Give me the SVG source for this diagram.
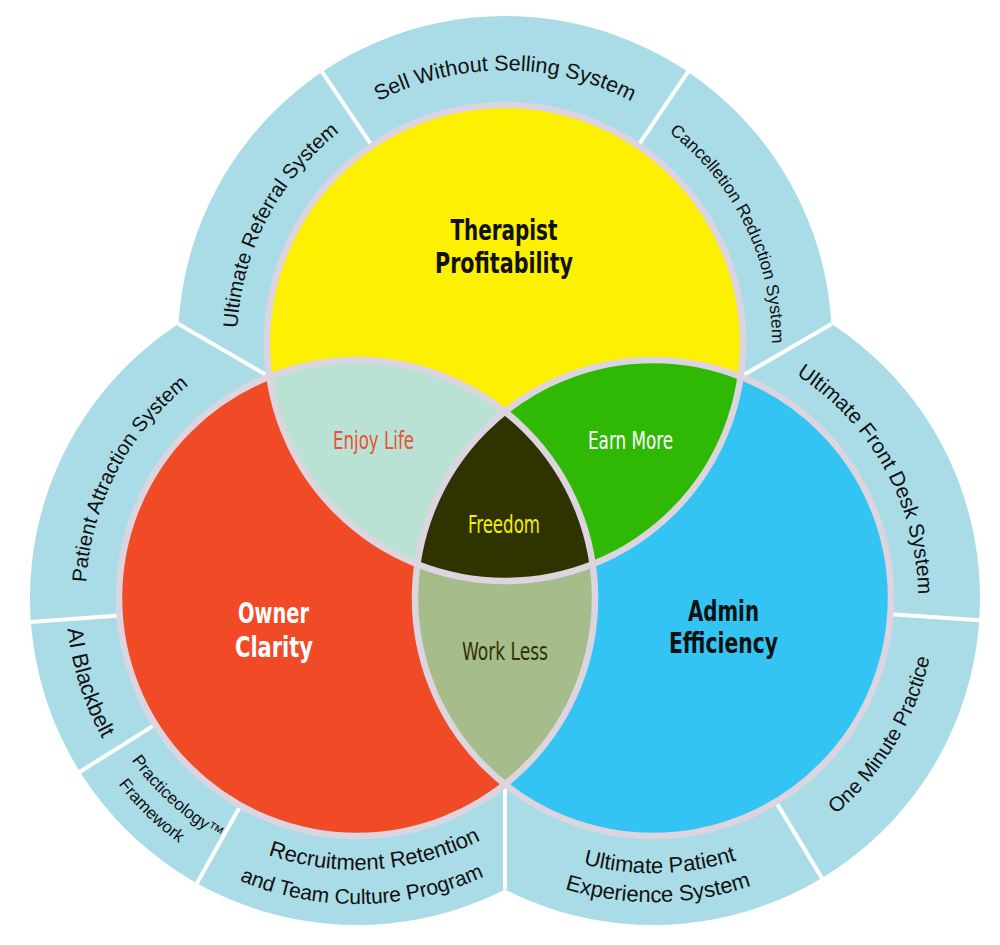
<svg xmlns="http://www.w3.org/2000/svg" width="1000" height="945" viewBox="0 0 1000 945">
<defs>
<style>
.ring{fill:#a9dce6}
.div{stroke:#ffffff;stroke-width:4;fill:none}
.rl{font-family:"Liberation Sans",Arial,sans-serif;font-size:21px;fill:#111111}
.title{font-family:"Liberation Sans Narrow","DejaVu Sans Condensed","Roboto Condensed",sans-serif;font-weight:bold;font-size:29px;text-anchor:middle}
.sub{font-family:"Liberation Sans Narrow","DejaVu Sans Condensed","Roboto Condensed",sans-serif;font-size:24px;text-anchor:middle}
.bord{fill:none;stroke:#dcd5df;stroke-width:6.5}
</style>
<clipPath id="cY"><circle cx="505" cy="343" r="238"/></clipPath>
<clipPath id="cR"><circle cx="357" cy="598" r="238"/></clipPath>
<path id="pSell" d="M236.2,295.6 A273,273 0 0 1 773.8,295.6"/>
<path id="pRef" d="M341.8,555.6 A268,268 0 0 1 585.6,87.4"/>
<path id="pCan" d="M431.4,86.3 A267,267 0 0 1 661.9,559.0"/>
<path id="pPat" d="M192.0,813.0 A271,271 0 0 1 438.5,339.5"/>
<path id="pAI" d="M222.6,339.9 A291,291 0 0 0 395.0,886.5"/>
<path id="pPra" d="M121.7,451.3 A277,277 0 0 0 527.5,816.3"/>
<path id="pFra" d="M105.8,428.6 A303,303 0 0 0 535.1,843.1"/>
<path id="pRec" d="M93.1,663.8 A272,272 0 0 0 627.5,626.4"/>
<path id="pAnd" d="M56.6,656.4 A306,306 0 0 0 659.2,645.9"/>
<path id="pFro" d="M566.7,347.4 A265,265 0 0 1 819.8,803.9"/>
<path id="pOne" d="M551.6,862.2 A283,283 0 0 0 838.7,384.4"/>
<path id="pUlt" d="M383.5,652.8 A275,275 0 0 0 925.0,638.6"/>
<path id="pExp" d="M354.6,656.0 A304,304 0 0 0 953.3,645.6"/>
</defs>
<rect width="1000" height="945" fill="#ffffff"/>

<g id="ring">
<circle class="ring" cx="505" cy="343" r="327"/>
<circle class="ring" cx="357" cy="598" r="327"/>
<circle class="ring" cx="653" cy="598" r="327"/>
</g>

<g id="dividers">
<line class="div" x1="178.5" y1="324" x2="269.3" y2="376.7"/>
<line class="div" x1="831.5" y1="324" x2="740.7" y2="376.7"/>
<line class="div" x1="505" y1="889.6" x2="505" y2="784.4"/>
<line class="div" x1="373.6" y1="148.2" x2="317.7" y2="65.3"/>
<line class="div" x1="636.4" y1="148.2" x2="692.3" y2="65.3"/>
<line class="div" x1="122.6" y1="615.2" x2="22.9" y2="622.5"/>
<line class="div" x1="157.9" y1="722.9" x2="73.2" y2="776.0"/>
<line class="div" x1="242.0" y1="802.9" x2="193.0" y2="890.2"/>
<line class="div" x1="887.5" y1="614.0" x2="987.2" y2="620.8"/>
<line class="div" x1="774.4" y1="799.2" x2="826.0" y2="884.9"/>
</g>

<g id="circle-therapist"><circle cx="505" cy="343" r="238" fill="#fdf000"/></g>
<g id="circle-owner"><circle cx="357" cy="598" r="238" fill="#f04a27"/></g>
<g id="circle-admin"><circle cx="653" cy="598" r="238" fill="#33c4f3"/></g>
<g id="region-enjoy-life" clip-path="url(#cY)"><circle cx="357" cy="598" r="238" fill="#b9e2d5"/></g>
<g id="region-earn-more" clip-path="url(#cY)"><circle cx="653" cy="598" r="238" fill="#30b904"/></g>
<g id="region-work-less" clip-path="url(#cR)"><circle cx="653" cy="598" r="238" fill="#a6bc8a"/></g>
<g id="region-freedom" clip-path="url(#cY)"><g clip-path="url(#cR)"><circle cx="653" cy="598" r="238" fill="#2f3300"/></g></g>
<g id="borders">
<circle class="bord" cx="505" cy="343" r="238"/>
<circle class="bord" cx="357" cy="598" r="238"/>
<circle class="bord" cx="653" cy="598" r="238"/>
</g>

<g id="labels-main">
<text class="title" x="504" y="240" fill="#111111" textLength="107" lengthAdjust="spacingAndGlyphs">Therapist</text>
<text class="title" x="504" y="273" fill="#111111" textLength="138" lengthAdjust="spacingAndGlyphs">Profitability</text>
<text class="title" x="273.5" y="623" fill="#ffffff" textLength="71" lengthAdjust="spacingAndGlyphs">Owner</text>
<text class="title" x="274" y="657" fill="#ffffff" textLength="78" lengthAdjust="spacingAndGlyphs">Clarity</text>
<text class="title" x="723.5" y="621" fill="#111111" textLength="71" lengthAdjust="spacingAndGlyphs">Admin</text>
<text class="title" x="723.5" y="653" fill="#111111" textLength="109" lengthAdjust="spacingAndGlyphs">Efficiency</text>
<text class="sub" x="373.5" y="449" fill="#ea5034" textLength="81" lengthAdjust="spacingAndGlyphs">Enjoy Life</text>
<text class="sub" x="630.5" y="449" fill="#ffffff" textLength="85" lengthAdjust="spacingAndGlyphs">Earn More</text>
<text class="sub" x="504" y="533" fill="#f7ef00" textLength="72" lengthAdjust="spacingAndGlyphs">Freedom</text>
<text class="sub" x="505" y="660" fill="#2e3300" textLength="86" lengthAdjust="spacingAndGlyphs">Work Less</text>
</g>

<g id="seg-sell"><text class="rl" style="font-size:21.5px"><textPath href="#pSell" startOffset="50%" text-anchor="middle">Sell Without Selling System</textPath></text></g>
<g id="seg-referral"><text class="rl" style="font-size:20.5px"><textPath href="#pRef" startOffset="50%" text-anchor="middle">Ultimate Referral System</textPath></text></g>
<g id="seg-cancel"><text class="rl" style="font-size:17.5px"><textPath href="#pCan" startOffset="50%" text-anchor="middle">Cancelletion Reduction System</textPath></text></g>
<g id="seg-patient-attraction"><text class="rl" style="font-size:20.5px"><textPath href="#pPat" startOffset="50%" text-anchor="middle">Patient Attraction System</textPath></text></g>
<g id="seg-ai"><text class="rl" style="font-size:22px"><textPath href="#pAI" startOffset="50%" text-anchor="middle">AI Blackbelt</textPath></text></g>
<g id="seg-practiceology">
<text class="rl" style="font-size:17px"><textPath href="#pPra" startOffset="50%" text-anchor="middle">Practiceology™</textPath></text>
<text class="rl" style="font-size:17px"><textPath href="#pFra" startOffset="50%" text-anchor="middle">Framework</textPath></text>
</g>
<g id="seg-recruitment">
<text class="rl" style="font-size:22px"><textPath href="#pRec" startOffset="50%" text-anchor="middle">Recruitment Retention</textPath></text>
<text class="rl" style="font-size:21px"><textPath href="#pAnd" startOffset="50%" text-anchor="middle">and Team Culture Program</textPath></text>
</g>
<g id="seg-front-desk"><text class="rl" style="font-size:21px"><textPath href="#pFro" startOffset="50%" text-anchor="middle">Ultimate Front Desk System</textPath></text></g>
<g id="seg-one-minute"><text class="rl" style="font-size:20.5px"><textPath href="#pOne" startOffset="50%" text-anchor="middle">One Minute Practice</textPath></text></g>
<g id="seg-patient-experience">
<text class="rl" style="font-size:22px"><textPath href="#pUlt" startOffset="50%" text-anchor="middle">Ultimate Patient</textPath></text>
<text class="rl" style="font-size:22px"><textPath href="#pExp" startOffset="50%" text-anchor="middle">Experience System</textPath></text>
</g>
</svg>
